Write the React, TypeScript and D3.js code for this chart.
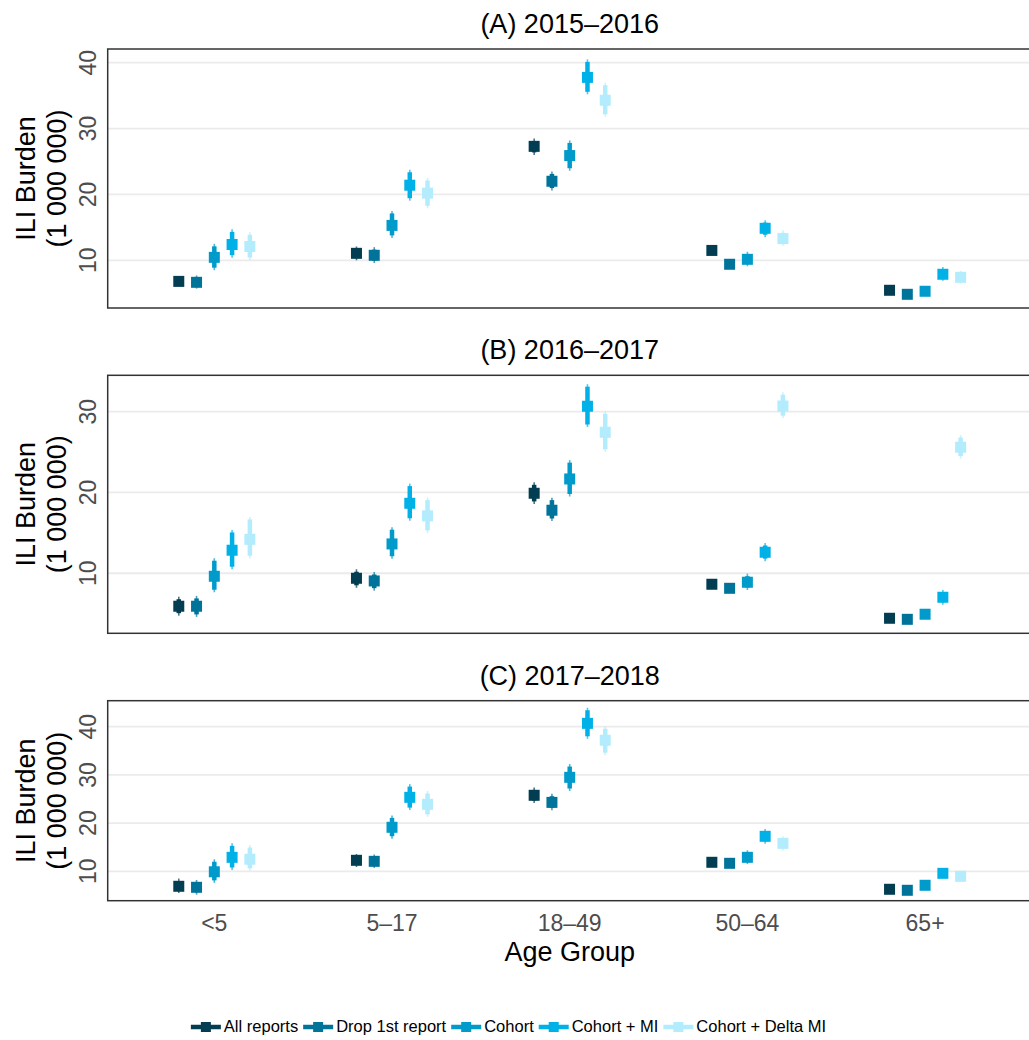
import React, { useMemo } from "react";
import * as d3 from "d3";

// Age groups on the x axis and the estimation methods (dodged series)
const ageGroups = ["<5", "5–17", "18–49", "50–64", "65+"];
const methods = ["All reports", "Drop 1st report", "Cohort", "Cohort + MI", "Cohort + Delta MI"];
const methodColors = ["#023d52", "#00739b", "#009bcb", "#00b1e7", "#b3ecfd"];
const seasonTitles = ["(A) 2015–2016", "(B) 2016–2017", "(C) 2017–2018"];
const yTicks = [
  [10, 20, 30, 40],
  [10, 20, 30],
  [10, 20, 30, 40],
];
const yDomains: [number, number][] = [
  [2.76, 42.08],
  [2.57, 34.5],
  [3.9, 45.4],
];

// ILI burden (millions), rows = methods, columns = age groups
const est1516 = [
  [6.8, 11.06, 27.3, 11.5, 5.45],
  [6.66, 10.76, 22.0, 9.4, 4.84],
  [10.45, 15.3, 25.9, 10.15, 5.3],
  [12.4, 21.4, 37.77, 14.86, 7.88],
  [12.1, 20.2, 34.3, 13.3, 7.42],
];
const lo1516 = [
  [6.2, 10.0, 26.0, 11.1, 5.2],
  [5.7, 9.6, 20.6, 9.0, 4.6],
  [8.5, 13.4, 23.6, 9.1, 5.0],
  [10.4, 19.05, 35.2, 13.5, 6.9],
  [10.05, 17.9, 31.8, 12.2, 6.45],
];
const hi1516 = [
  [7.4, 12.1, 28.5, 11.9, 5.7],
  [7.7, 12.0, 23.5, 9.8, 5.1],
  [12.5, 17.5, 28.2, 11.3, 5.6],
  [14.7, 23.75, 40.5, 16.1, 9.0],
  [14.25, 22.5, 36.95, 14.55, 8.4],
];

const est1617 = [
  [5.92, 9.38, 19.9, 8.64, 4.43],
  [5.92, 9.05, 17.8, 8.14, 4.3],
  [9.63, 13.63, 21.67, 8.89, 4.93],
  [12.85, 18.66, 30.67, 12.6, 7.03],
  [14.2, 17.1, 27.45, 30.7, 25.6],
];
const lo1617 = [
  [4.75, 8.2, 18.58, 8.3, 4.2],
  [4.6, 7.85, 16.47, 7.8, 4.1],
  [7.65, 11.8, 19.5, 7.93, 4.6],
  [10.5, 16.5, 28.1, 11.5, 6.11],
  [11.86, 15.0, 25.05, 29.2, 24.2],
];
const hi1617 = [
  [7.1, 10.5, 21.26, 9.0, 4.7],
  [7.2, 10.16, 19.36, 8.5, 4.5],
  [11.86, 15.7, 24.0, 9.95, 5.3],
  [15.36, 21.1, 33.4, 13.75, 7.93],
  [16.97, 19.36, 30.05, 32.4, 27.1],
];

const est1718 = [
  [6.89, 12.28, 25.77, 11.87, 6.27],
  [6.68, 12.07, 24.3, 11.66, 6.06],
  [9.9, 19.13, 29.5, 12.9, 7.1],
  [12.9, 25.35, 40.7, 17.26, 9.58],
  [12.5, 23.9, 37.2, 15.8, 8.96],
];
const lo1718 = [
  [5.5, 10.9, 24.17, 11.2, 5.7],
  [5.15, 10.7, 22.66, 11.0, 5.5],
  [7.6, 16.76, 26.66, 11.5, 6.5],
  [10.27, 22.7, 37.5, 15.7, 9.0],
  [10.1, 21.3, 34.1, 14.3, 8.4],
];
const hi1718 = [
  [8.5, 13.6, 27.4, 12.5, 6.8],
  [8.2, 13.5, 26.1, 12.3, 6.6],
  [12.5, 21.6, 32.26, 14.36, 7.7],
  [15.8, 28.1, 43.94, 18.8, 10.2],
  [15.45, 26.66, 40.1, 17.2, 9.5],
];

const seasons = [
  { est: est1516, lo: lo1516, hi: hi1516 },
  { est: est1617, lo: lo1617, hi: hi1617 },
  { est: est1718, lo: lo1718, hi: hi1718 },
];

const W = 1029;
const H = 1040;
const FONT = "'Liberation Sans', Arial, Helvetica, sans-serif";
const panelLeft = 107.7;
const panelRight = 1031.7;
const panelBoxes = [
  { top: 49, bottom: 308 },
  { top: 375.3, bottom: 633.3 },
  { top: 700.7, bottom: 900.7 },
];
const SQ = 11;

function measure(text: string, size: number) {
  const c = document.createElement("canvas").getContext("2d");
  if (!c) return text.length * size * 0.5;
  c.font = `${size}px 'Liberation Sans', Arial, sans-serif`;
  return c.measureText(text).width;
}

export default function App() {
  const x = d3.scalePoint<string>().domain(ageGroups).range([panelLeft, panelRight]).padding(0.6);
  const step = x.step();
  const dodge = (i: number) => (i - (methods.length - 1) / 2) * 0.1 * step;

  const legend = useMemo(() => {
    const keyW = 30;
    const items = methods.map((m) => ({ m, tw: measure(m, 16.5) }));
    const total = items.reduce((s, it) => s + keyW + 3 + it.tw + 5, 0) - 5;
    let cx = 508.5 - total / 2;
    return items.map((it, i) => {
      const o = { x: cx, tw: it.tw, m: it.m, i };
      cx += keyW + 3 + it.tw + 5;
      return o;
    });
  }, []);

  return (
    <svg
      width={W}
      height={H}
      style={{ position: "absolute", left: 0, top: 0, background: "#fff" }}
      fontFamily={FONT}
    >
      <rect x={0} y={0} width={W} height={H} fill="#fff" />
      {panelBoxes.map((b, p) => {
        const y = d3.scaleLinear().domain(yDomains[p]).range([b.bottom, b.top]);
        const s = seasons[p];
        const midY = (b.top + b.bottom) / 2;
        return (
          <g key={p}>
            <text
              x={(panelLeft + panelRight) / 2}
              y={b.top - 16}
              textAnchor="middle"
              fontSize={27}
              fill="#000"
            >
              {seasonTitles[p]}
            </text>
            {yTicks[p].map((t) => (
              <line
                key={t}
                x1={panelLeft}
                x2={panelRight}
                y1={y(t)}
                y2={y(t)}
                stroke="#ebebeb"
                strokeWidth={1.8}
              />
            ))}
            {yTicks[p].map((t) => (
              <text
                key={"l" + t}
                transform={`translate(96,${y(t)}) rotate(-90)`}
                textAnchor="middle"
                fontSize={23}
                fill="#4d4d4d"
              >
                {t}
              </text>
            ))}
            <text transform={`translate(35,${midY}) rotate(-90)`} textAnchor="middle" fontSize={27} fill="#000">
              ILI Burden
            </text>
            <text transform={`translate(66,${midY}) rotate(-90)`} textAnchor="middle" fontSize={27} fill="#000">
              (1 000 000)
            </text>
            {methods.map((m, mi) => (
              <g key={m}>
                {ageGroups.map((a, ai) => {
                  const cx = (x(a) as number) + dodge(mi);
                  const yv = y(s.est[mi][ai]);
                  const yl = y(s.lo[mi][ai]);
                  const yh = y(s.hi[mi][ai]);
                  const thickLo = Math.max(yh + 2.5, Math.min(yv, yh + 2.5));
                  const thickHi = Math.min(yl - 2.5, Math.max(yv, yl - 2.5));
                  return (
                    <g key={a}>
                      <line x1={cx} x2={cx} y1={yl} y2={yh} stroke={methodColors[mi]} strokeWidth={1.6} strokeOpacity={0.7} />
                      {thickHi > thickLo && (
                        <line x1={cx} x2={cx} y1={thickLo} y2={thickHi} stroke={methodColors[mi]} strokeWidth={4.5} />
                      )}
                      <rect x={cx - SQ / 2} y={yv - SQ / 2} width={SQ} height={SQ} fill={methodColors[mi]} />
                    </g>
                  );
                })}
              </g>
            ))}
            <rect
              x={panelLeft}
              y={b.top}
              width={panelRight - panelLeft}
              height={b.bottom - b.top}
              fill="none"
              stroke="#333"
              strokeWidth={1.5}
            />
          </g>
        );
      })}
      {ageGroups.map((a) => (
        <text key={a} x={x(a) as number} y={931} textAnchor="middle" fontSize={23} fill="#4d4d4d">
          {a}
        </text>
      ))}
      <text x={(panelLeft + panelRight) / 2} y={961} textAnchor="middle" fontSize={27} fill="#000">
        Age Group
      </text>
      {legend.map((it) => (
        <g key={it.m}>
          <line x1={it.x} x2={it.x + 30} y1={1027} y2={1027} stroke={methodColors[it.i]} strokeWidth={4.5} />
          <rect x={it.x + 15 - 5} y={1027 - 5} width={10} height={10} fill={methodColors[it.i]} />
          <text x={it.x + 33} y={1032} fontSize={16.5} fill="#000">
            {it.m}
          </text>
        </g>
      ))}
    </svg>
  );
}
